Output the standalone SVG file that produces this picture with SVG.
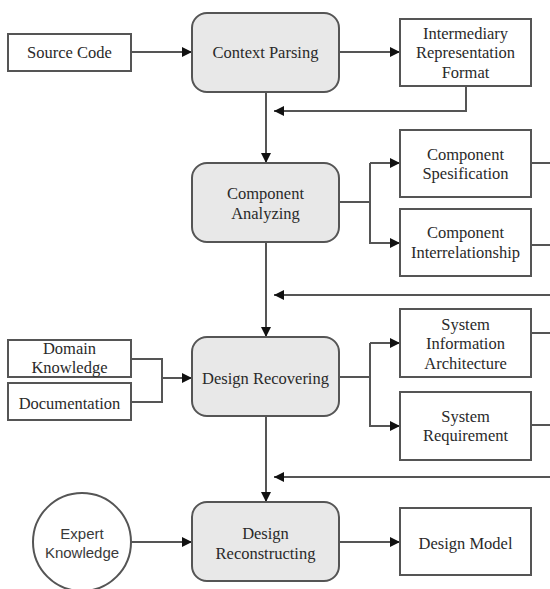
<svg xmlns="http://www.w3.org/2000/svg" width="550" height="589" viewBox="0 0 550 589">
<defs>
<marker id="ah" viewBox="0 0 10 10" refX="10" refY="5" markerWidth="10" markerHeight="10" markerUnits="userSpaceOnUse" orient="auto">
<path d="M0,0 L10,5 L0,10 Z" fill="#111"/>
</marker>
<style>
.box{fill:#fff;stroke:#555;stroke-width:2}
.proc{fill:#e8e8e8;stroke:#555;stroke-width:2}
.t{font-family:'Liberation Serif','Times New Roman',serif;font-size:16.5px;fill:#2a2a2a;text-anchor:middle;dominant-baseline:central}
.s{font-family:'Liberation Sans',Arial,sans-serif;font-size:15px;fill:#3a3a3a;text-anchor:middle;dominant-baseline:central}
.c{fill:none;stroke:#555;stroke-width:2}
.a{fill:none;stroke:#555;stroke-width:2;marker-end:url(#ah)}
</style>
</defs>
<rect width="550" height="589" fill="#fff"/>
<g id="connectors">
<path class="a" d="M132,52 H192"/>
<path class="a" d="M339,52 H400"/>
<path class="a" d="M466,86 V111 H274"/>
<path class="a" d="M266,92 V163"/>
<path class="c" d="M339,202 H370 V163"/>
<path class="a" d="M370,163 H400"/>
<path class="a" d="M370,202 V243 H400"/>
<path class="c" d="M531,163 H550"/>
<path class="c" d="M531,245 H550"/>
<path class="a" d="M550,295 H274"/>
<path class="a" d="M266,242 V337"/>
<path class="c" d="M131,359 H162 V402 H131"/>
<path class="a" d="M162,378 H192"/>
<path class="c" d="M339,377 H370 V343"/>
<path class="a" d="M370,343 H400"/>
<path class="a" d="M370,377 V426 H400"/>
<path class="c" d="M531,333 H550"/>
<path class="c" d="M531,425 H550"/>
<path class="a" d="M550,477 H274"/>
<path class="a" d="M266,416 V502"/>
<path class="a" d="M131,542 H192"/>
<path class="a" d="M339,542 H400"/>
</g>
<g id="source-code"><rect class="box" x="8" y="34" width="123" height="37"/><text class="t" x="69.5" y="52">Source Code</text></g>
<g id="context-parsing"><rect class="proc" x="192" y="13" width="147" height="79" rx="15"/><text class="t" x="265.5" y="52">Context Parsing</text></g>
<g id="irf"><rect class="box" x="400" y="19" width="131" height="67"/><text class="t" x="465.5" y="33">Intermediary</text><text class="t" x="465.5" y="52.5">Representation</text><text class="t" x="465.5" y="72">Format</text></g>
<g id="component-analyzing"><rect class="proc" x="192" y="163" width="147" height="79" rx="15"/><text class="t" x="265.5" y="193">Component</text><text class="t" x="265.5" y="213">Analyzing</text></g>
<g id="component-spec"><rect class="box" x="400" y="130" width="131" height="67"/><text class="t" x="465.5" y="154">Component</text><text class="t" x="465.5" y="173">Spesification</text></g>
<g id="component-inter"><rect class="box" x="400" y="209" width="131" height="67"/><text class="t" x="465.5" y="232">Component</text><text class="t" x="465.5" y="252">Interrelationship</text></g>
<g id="domain-knowledge"><rect class="box" x="8" y="340" width="123" height="37"/><text class="t" x="69.5" y="348">Domain</text><text class="t" x="69.5" y="367">Knowledge</text></g>
<g id="documentation"><rect class="box" x="8" y="383" width="123" height="37"/><text class="t" x="69.5" y="403">Documentation</text></g>
<g id="design-recovering"><rect class="proc" x="192" y="337" width="147" height="79" rx="15"/><text class="t" x="265.5" y="378">Design Recovering</text></g>
<g id="sia"><rect class="box" x="400" y="309" width="131" height="68"/><text class="t" x="465.5" y="324">System</text><text class="t" x="465.5" y="343.5">Information</text><text class="t" x="465.5" y="363">Architecture</text></g>
<g id="system-requirement"><rect class="box" x="400" y="392" width="131" height="68"/><text class="t" x="465.5" y="416">System</text><text class="t" x="465.5" y="435">Requirement</text></g>
<g id="expert-knowledge"><circle class="box" cx="82" cy="542" r="49"/><text class="s" x="82" y="533">Expert</text><text class="s" x="82" y="552">Knowledge</text></g>
<g id="design-reconstructing"><rect class="proc" x="192" y="502" width="147" height="79" rx="15"/><text class="t" x="265.5" y="533">Design</text><text class="t" x="265.5" y="553">Reconstructing</text></g>
<g id="design-model"><rect class="box" x="400" y="508" width="131" height="67"/><text class="t" x="465.5" y="543">Design Model</text></g>
</svg>
